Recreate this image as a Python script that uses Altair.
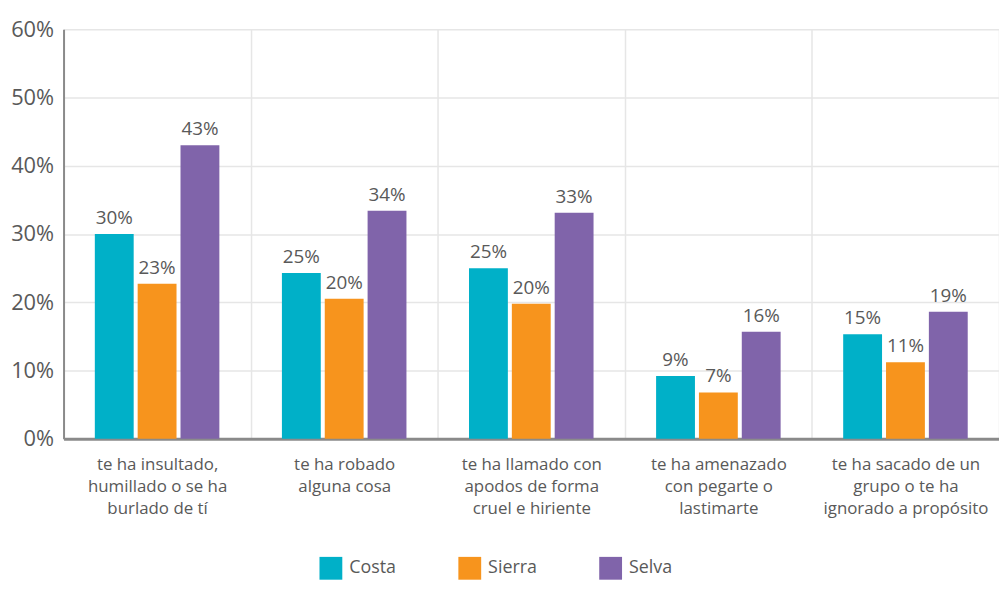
import altair as alt
import pandas as pd

categories = [
    "te ha insultado,|humillado o se ha|burlado de tí",
    "te ha robado|alguna cosa",
    "te ha llamado con|apodos de forma|cruel e hiriente",
    "te ha amenazado|con pegarte o|lastimarte",
    "te ha sacado de un|grupo o te ha|ignorado a propósito",
]
series = ["Costa", "Sierra", "Selva"]
costa = [30.0, 24.3, 25.0, 9.2, 15.3]
sierra = [22.7, 20.5, 19.8, 6.8, 11.2]
selva = [43.0, 33.4, 33.1, 15.7, 18.6]
costa_lbl = ["30%", "25%", "25%", "9%", "15%"]
sierra_lbl = ["23%", "20%", "20%", "7%", "11%"]
selva_lbl = ["43%", "34%", "33%", "16%", "19%"]
colors = ["#00B0C8", "#F7941D", "#8064AA"]
y_ticks = [0, 10, 20, 30, 40, 50, 60]

rows = []
for name, vals, lbls in [("Costa", costa, costa_lbl), ("Sierra", sierra, sierra_lbl), ("Selva", selva, selva_lbl)]:
    for c, v, l in zip(categories, vals, lbls):
        rows.append({"cat": c, "serie": name, "value": v, "label": l})
df = pd.DataFrame(rows)

FONT = "Open Sans"
TXT = "#595959"
GRID = "#e6e6e6"

x_enc = alt.X(
    "cat:N", sort=categories, title=None,
    scale=alt.Scale(paddingInner=0, paddingOuter=0),
    axis=alt.Axis(
        labelAngle=0, labelFontSize=17, labelColor=TXT, labelFont=FONT,
        labelExpr="split(datum.label, '|')", labelLineHeight=22,
        labelPadding=18, ticks=False, tickBand="extent",
        grid=True, gridColor=GRID, gridWidth=1.5,
        domainColor="#8a8a8a", domainWidth=3, labelLimit=220,
    ),
)
xoff = alt.XOffset("serie:N", sort=series,
                   scale=alt.Scale(paddingInner=0.093, paddingOuter=0.73))
y_enc = alt.Y(
    "value:Q", title=None,
    scale=alt.Scale(domain=[0, 60], nice=False),
    axis=alt.Axis(
        values=y_ticks, labelExpr="datum.value + '%'", labelFontSize=22,
        labelColor=TXT, labelFont=FONT, ticks=False, labelPadding=10,
        grid=True, gridColor=GRID, gridWidth=1.5,
        domainColor="#8a8a8a", domainWidth=2,
    ),
)

bars = alt.Chart(df).mark_bar().encode(
    x=x_enc, xOffset=xoff, y=y_enc,
    color=alt.Color(
        "serie:N", sort=series,
        scale=alt.Scale(domain=series, range=colors),
        legend=alt.Legend(
            title=None, orient="none", direction="horizontal",
            legendX=258, legendY=532,
            symbolType="square", symbolSize=529, symbolStrokeWidth=0,
            labelFontSize=18, labelColor=TXT, labelFont=FONT,
            columnPadding=62, labelOffset=7,
        ),
    ),
)

labels = alt.Chart(df).mark_text(
    fontSize=19, color=TXT, font=FONT, baseline="alphabetic", dy=-10
).encode(
    x=alt.X("cat:N", sort=categories), xOffset=xoff,
    y="value:Q", text="label:N",
)

chart = (bars + labels).properties(
    width=943, height=413,
    autosize=alt.AutoSizeParams(type="none"),
    padding={"left": 56, "top": 19, "right": 0, "bottom": 141},
).configure_view(stroke=None)

chart.save("out.html", embed_options={"renderer": "svg", "actions": False})
